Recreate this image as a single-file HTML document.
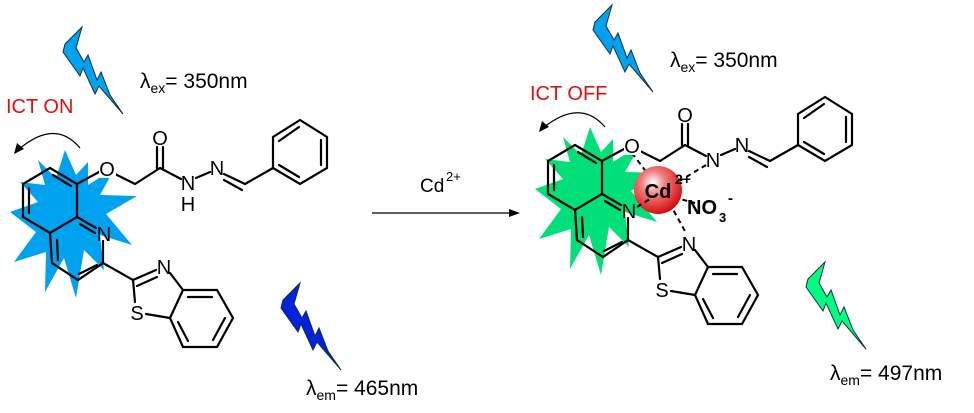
<!DOCTYPE html>
<html><head><style>
html,body{margin:0;padding:0;background:#fff;width:974px;height:413px;overflow:hidden}
text{font-family:"Liberation Sans",sans-serif}
</style></head><body>
<svg width="974" height="413" viewBox="0 0 974 413" xmlns="http://www.w3.org/2000/svg">
<defs>
<radialGradient id="rg" cx="0.4" cy="0.35" r="0.7">
<stop offset="0" stop-color="#ffffff"/><stop offset="0.35" stop-color="#f08080"/><stop offset="1" stop-color="#d40000"/>
</radialGradient>
<polygon id="bolt" stroke="#103040" stroke-width="1" points="82,27 65,44 63,52 80,76 83,68 95,94 99,86 123,114 110,95 101,72 97,80 88,55 84,62 76,48"/>
<g id="mol" stroke="#000" stroke-width="2.2" fill="none" stroke-linecap="round">
<polyline points="50,168 77,184 77,217 50,233 23,217 23,184 50,168"/>
<line x1="53" y1="175" x2="71" y2="186"/>
<line x1="29" y1="188" x2="29" y2="213"/>
<line x1="77" y1="217" x2="96" y2="228"/>
<line x1="80" y1="224" x2="95" y2="233"/>
<polyline points="103,241 103,263 78,280 52,263 50,233"/>
<line x1="57" y1="240" x2="58" y2="260"/>
<line x1="97" y1="265" x2="79" y2="274"/>
<line x1="77" y1="184" x2="99" y2="172"/>
<polyline points="115,174 135,184 160,168"/>
<line x1="157" y1="168" x2="157" y2="147"/>
<line x1="163" y1="168" x2="163" y2="147"/>
<line x1="160" y1="168" x2="181" y2="179"/>
<line x1="196" y1="178" x2="210" y2="172"/>
<line x1="224" y1="174" x2="245" y2="184"/>
<line x1="224" y1="180" x2="242" y2="190"/>
<line x1="245" y1="184" x2="273" y2="168"/>
<polyline points="273,168 273,137 300,120 327,137 327,168 300,184 273,168"/>
<line x1="279" y1="141" x2="299" y2="127"/>
<line x1="321" y1="140" x2="321" y2="165"/>
<line x1="279" y1="165" x2="299" y2="177"/>
<line x1="103" y1="263" x2="133" y2="280"/>
<line x1="133" y1="280" x2="156" y2="270"/>
<line x1="137" y1="286" x2="157" y2="277"/>
<line x1="170" y1="273" x2="183" y2="290"/>
<line x1="133" y1="280" x2="135" y2="302"/>
<line x1="146" y1="314" x2="170" y2="318"/>
<polyline points="183,290 217,290 233,318 217,347 183,347 170,318 183,290"/>
<line x1="188" y1="297" x2="212" y2="297"/>
<line x1="225" y1="318" x2="213" y2="340"/>
<line x1="188" y1="341" x2="178" y2="322"/>
</g>
</defs>

<!-- starbursts -->
<polygon fill="#00a2ef" points="65,150 76,175 88,162 88,185 115,168 100,195 137,196 106,214 132,245 100,235 104,270 84,250 76,298 64,258 45,292 46,252 14,262 36,232 10,212 38,202 20,182 45,185 38,160 56,178"/>
<polygon fill="#00df78" points="590,127 601,152 613,139 613,162 640,145 625,172 662,173 631,191 657,222 625,212 629,247 609,227 601,275 589,235 570,269 571,229 539,239 561,209 535,189 563,179 545,159 570,162 563,137 581,155"/>

<use href="#mol"/>
<use href="#mol" transform="translate(525,-23)"/>

<!-- right dashed coordination -->
<g stroke="#000" stroke-width="2" stroke-dasharray="5,4" fill="none">
<line x1="632" y1="153" x2="660" y2="190"/>
<line x1="706" y1="165" x2="668" y2="188"/>
<line x1="665" y1="195" x2="686" y2="233"/>
<line x1="665" y1="195" x2="695" y2="203"/>
</g>
<circle cx="658" cy="190" r="24" fill="url(#rg)"/>
<line x1="637" y1="207" x2="650" y2="199" stroke="#000" stroke-width="2" stroke-dasharray="5,4"/>

<!-- atom labels -->
<g font-size="20" fill="#000" text-anchor="middle">
<rect x="99" y="158" width="17" height="20" fill="#fff"/><text x="107" y="176">O</text>
<text x="160" y="145">O</text>
<text x="188" y="190">N</text><text x="188" y="211">H</text>
<text x="217" y="175">N</text>
<text x="104" y="241">N</text>
<text x="164" y="274">N</text>
<text x="137" y="320">S</text>
<rect x="624" y="135" width="17" height="20" fill="#fff"/><text x="632" y="153">O</text>
<text x="685" y="122">O</text>
<text x="713" y="167">N</text>
<text x="742" y="152">N</text>
<text x="629" y="218">N</text>
<text x="689" y="251">N</text>
<text x="662" y="297">S</text>
<text x="658" y="198" font-weight="bold">Cd</text>
</g>
<text x="675" y="184" font-size="14" font-weight="bold">2+</text>
<text x="687" y="214" font-size="20" font-weight="bold">NO</text>
<text x="719" y="222" font-size="13" font-weight="bold">3</text>
<text x="728" y="203" font-size="15" font-weight="bold">-</text>

<!-- curved arrows -->
<g stroke="#000" stroke-width="1.3" fill="none">
<path d="M80,148 Q55,118 18,150"/>
<path d="M605,127 Q580,98 543,128"/>
</g>
<polygon points="14,154 17,143 24,149"/>
<polygon points="539,132 542,121 549,127"/>

<!-- reaction arrow -->
<line x1="372" y1="213" x2="512" y2="213" stroke="#000" stroke-width="1.3"/>
<polygon points="520,213 509,209 509,217"/>
<text x="420" y="192" font-size="19">Cd</text><text x="446" y="181" font-size="13">2+</text>

<!-- bolts -->
<use href="#bolt" fill="#00a2ef"/>
<use href="#bolt" fill="#00a2ef" transform="translate(530,-22)"/>
<use href="#bolt" fill="#0022dd" transform="translate(218,256)"/>
<use href="#bolt" fill="#00ff80" transform="translate(743,235)"/>

<!-- texts -->
<g font-size="21" fill="#000">
<text x="140" y="88">λ<tspan font-size="14" dy="5">ex</tspan><tspan dy="-5">= 350nm</tspan></text>
<text x="670" y="67">λ<tspan font-size="14" dy="5">ex</tspan><tspan dy="-5">= 350nm</tspan></text>
<text x="306" y="395">λ<tspan font-size="14" dy="5">em</tspan><tspan dy="-5">= 465nm</tspan></text>
<text x="830" y="380">λ<tspan font-size="14" dy="5">em</tspan><tspan dy="-5">= 497nm</tspan></text>
</g>
<text x="6" y="113" font-size="20" fill="#e01010">ICT ON</text>
<text x="530" y="100" font-size="20" fill="#e01010">ICT OFF</text>
</svg>
</body></html>
